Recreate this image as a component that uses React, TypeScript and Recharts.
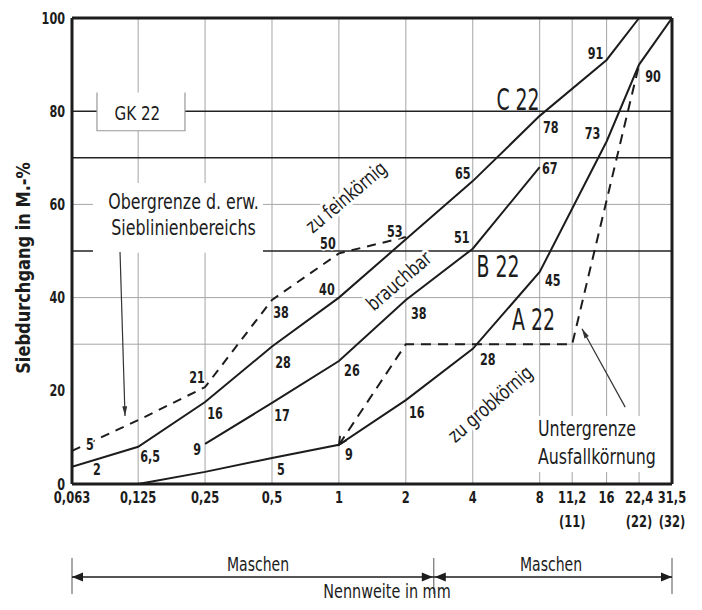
import React from 'react';
import {
	LineChart,
	Line,
	XAxis,
	YAxis,
	CartesianGrid,
	ReferenceLine,
	ReferenceArea,
	ReferenceDot,
	Label,
} from 'recharts';

const FONT = "'DejaVu Sans Condensed', 'Liberation Sans Narrow', 'DejaVu Sans', sans-serif";
const INK = '#1c1c1c';

// Siebweiten (mm) und Achsbeschriftung
const sieveMm = [0.063, 0.125, 0.25, 0.5, 1, 2, 4, 8, 11.2, 16, 22.4, 31.5];
const sieveLabels = ['0,063', '0,125', '0,25', '0,5', '1', '2', '4', '8', '11,2', '16', '22,4', '31,5'];
const sieveSubLabels = ['', '', '', '', '', '', '', '', '(11)', '', '(22)', '(32)'];
const yTicks = [0, 20, 40, 60, 80, 100];
const darkRows = [50, 70, 80];
const lightRows = [30, 40, 60];

// Obergrenze d. erw. Sieblinienbereichs (gestrichelt)
const oberMm = [0.063, 0.125, 0.25, 0.5, 1, 2];
const oberPct = [7.1, 13.7, 20.8, 39.5, 49.5, 53];
const oberLabels = ['5', '', '21', '38', '50', '53'];

// Sieblinie C 22
const c22Mm = [0.063, 0.125, 0.25, 0.5, 1, 2, 4, 8, 16, 22.4];
const c22Pct = [3.7, 8, 17.6, 29.5, 40, 52.5, 65, 79, 91, 100];
const c22Labels = ['2', '6,5', '16', '28', '40', '', '65', '78', '91', ''];

// Sieblinie B 22
const b22Mm = [0.25, 0.5, 1, 2, 4, 8];
const b22Pct = [8.6, 17.4, 26.4, 39.5, 50.5, 68];
const b22Labels = ['9', '17', '26', '38', '51', '67'];

// Sieblinie A 22
const a22Mm = [0.125, 0.25, 0.5, 1, 2, 4, 8, 16, 22.4, 31.5];
const a22Pct = [0, 2.6, 5.6, 8.4, 18, 29, 45.5, 73.5, 90, 100];
const a22Labels = ['', '', '5', '9', '16', '28', '45', '73', '90', ''];

// Untergrenze Ausfallkörnung (gestrichelt)
const unterMm = [1, 2, 11.2, 22.4];
const unterPct = [8.4, 30, 30, 90];

// label offsets in px (dx, dy) from the point
const oberOffsets = [[18, -6], [0, 0], [-8, -10], [9, 12], [-11, -10], [-11, -6]];
const c22Offsets = [[25, 3], [12, 10], [10, 11], [11, 16], [-12, -8], [0, 0], [-10, -8], [11, 12], [-11, -7], [0, 0]];
const b22Offsets = [[-8, 6], [10, 13], [13, 9], [13, 13], [-11, -11], [10, 1]];
const a22Offsets = [[0, 0], [0, 0], [9, 12], [10, 10], [11, 12], [15, 11], [13, 8], [-14, -8], [14, 12], [0, 0]];

const toRows = (mm: number[], pct: number[]) => mm.map((m, i) => ({ mm: m, pct: pct[i] }));

const Txt = ({ x, y, children, size = 16, weight = 'normal', scale = 0.8, anchor = 'middle', angle = 0, halo = 0, baseline }: any) => (
	<text
		transform={`translate(${x},${y}) rotate(${angle}) scale(${scale},1)`}
		textAnchor={anchor}
		dominantBaseline={baseline}
		fontSize={size}
		fontWeight={weight}
		fontFamily={FONT}
		fill={INK}
		stroke={halo ? '#fff' : 'none'}
		strokeWidth={halo}
		strokeLinejoin="round"
		paintOrder="stroke"
	>
		{children}
	</text>
);

// annotations placed in data units (mm, %)
const notes = [
	{ text: 'C 22', mm: 6.39, pct: 82.6, size: 30, scale: 0.7, angle: 0 },
	{ text: 'B 22', mm: 5.2, pct: 46.7, size: 30, scale: 0.7, angle: 0 },
	{ text: 'A 22', mm: 7.5, pct: 35.2, size: 30, scale: 0.7, angle: 0 },
	{ text: 'GK 22', mm: 0.124, pct: 79.7, size: 20, scale: 0.84, angle: 0 },
	{ text: 'zu feinkörnig', mm: 1.076, pct: 61.6, size: 20, scale: 0.85, angle: -40, halo: 6 },
	{ text: 'brauchbar', mm: 1.86, pct: 43.6, size: 20, scale: 0.85, angle: -41, halo: 6 },
	{ text: 'zu grobkörnig', mm: 4.78, pct: 17.2, size: 20, scale: 0.85, angle: -41, halo: 6 },
];
const textLines = [
	{ text: 'Obergrenze d. erw.', mm: 0.2, pct: 59.0, anchor: 'middle' },
	{ text: 'Sieblinienbereichs', mm: 0.2, pct: 53.4, anchor: 'middle' },
	{ text: 'Untergrenze', mm: 7.86, pct: 10.3, anchor: 'start' },
	{ text: 'Ausfallkörnung', mm: 7.86, pct: 4.3, anchor: 'start' },
];

const makeDot = (texts: string[], offs: number[][]) => (p: any) => {
	const t = texts[p.index];
	if (!t) return <g key={p.index} />;
	return (
		<g key={p.index}>
			<Txt x={p.cx + offs[p.index][0]} y={p.cy + offs[p.index][1]} size={16} weight="bold" scale={0.78} baseline="central" halo={3}>
				{t}
			</Txt>
		</g>
	);
};

const arrowShape = (filled: boolean, drawLine: boolean) => (p: any) => {
	const { x1, y1, x2, y2 } = p;
	const a = Math.atan2(y2 - y1, x2 - x1);
	const L = filled ? 10 : 9;
	const w = filled ? 0.25 : 0.45;
	const ax = x2 - L * Math.cos(a - w);
	const ay = y2 - L * Math.sin(a - w);
	const bx = x2 - L * Math.cos(a + w);
	const by = y2 - L * Math.sin(a + w);
	return (
		<g>
			{drawLine && <line x1={x1} y1={y1} x2={x2} y2={y2} stroke="#333" strokeWidth={1.2} />}
			{filled ? (
				<polygon points={`${ax},${ay} ${x2},${y2} ${bx},${by}`} fill="#333" />
			) : (
				<polyline points={`${ax},${ay} ${x2},${y2} ${bx},${by}`} fill="none" stroke={INK} strokeWidth={1.8} />
			)}
		</g>
	);
};

const XTick = (props: any) => {
	const { x, y, index } = props;
	return (
		<g>
			<Txt x={x} y={y + 11} size={16} weight="bold" scale={0.8}>
				{sieveLabels[index]}
			</Txt>
			{sieveSubLabels[index] && (
				<Txt x={x} y={y + 35} size={16} weight="bold" scale={0.8}>
					{sieveSubLabels[index]}
				</Txt>
			)}
		</g>
	);
};

const YTick = (props: any) => {
	const { x, y, payload } = props;
	return (
		<Txt x={x + 1} y={y} size={16} weight="bold" scale={0.78} anchor="end" baseline="central">
			{payload.value}
		</Txt>
	);
};

const head = (x: number, y: number, dir: number) => (
	<polygon points={`${x},${y} ${x - dir * 11},${y - 4.5} ${x - dir * 11},${y + 4.5}`} fill={INK} />
);

const BottomNotes = (props: any) => {
	const { x, y, width } = props.viewBox;
	const mid = x + width * 0.603;
	const right = x + width;
	const ly = y + 93;
	return (
		<g>
			{[x, mid, right].map((vx) => (
				<line key={vx} x1={vx} x2={vx} y1={y + 74} y2={y + 110} stroke="#555" strokeWidth={1} />
			))}
			<line x1={x} x2={right} y1={ly} y2={ly} stroke={INK} strokeWidth={1.5} />
			{head(x, ly, -1)}
			{head(mid - 1, ly, 1)}
			{head(mid + 1, ly, -1)}
			{head(right, ly, 1)}
			<Txt x={x + 186} y={y + 87} size={20} scale={0.78}>
				Maschen
			</Txt>
			<Txt x={x + 479} y={y + 87} size={20} scale={0.78}>
				Maschen
			</Txt>
			<Txt x={x + 315} y={y + 114} size={20} scale={0.8}>
				Nennweite in mm
			</Txt>
		</g>
	);
};

const YTitle = (props: any) => {
	const { y, height } = props.viewBox;
	return (
		<Txt x={23} y={y + height / 2 + 17} size={19} weight="bold" scale={0.95} angle={-90} baseline="central">
			Siebdurchgang in M.-%
		</Txt>
	);
};

const gkShape = (p: any) => {
	const { x, y, width, height } = p;
	return (
		<g>
			<rect x={x} y={y} width={width} height={height} fill="#fff" />
			<path d={`M${x},${y} V${y + height} H${x + width} V${y}`} fill="none" stroke="#999" strokeWidth={1.2} />
		</g>
	);
};

const App = () => {
	return (
		<div style={{ margin: -8 }}>
			<LineChart width={702} height={610} margin={{ top: 18, right: 30, left: 0, bottom: 0 }}>
				<CartesianGrid
					verticalValues={sieveMm.slice(1, -1)}
					horizontalValues={lightRows}
					stroke="#a5a5a5"
					strokeWidth={1}
				/>
				<CartesianGrid vertical={false} horizontalValues={darkRows} stroke="#222" strokeWidth={1.4} />
				<XAxis
					dataKey="mm"
					type="number"
					scale="log"
					domain={[0.063, 31.5]}
					ticks={sieveMm}
					interval={0}
					allowDataOverflow
					height={126}
					tickLine={false}
					axisLine={{ stroke: INK, strokeWidth: 3 }}
					tick={<XTick />}
				>
					<Label content={<BottomNotes />} />
				</XAxis>
				<YAxis
					type="number"
					domain={[0, 100]}
					ticks={yTicks}
					width={72}
					tickLine={false}
					axisLine={{ stroke: INK, strokeWidth: 3 }}
					tick={<YTick />}
				>
					<Label content={<YTitle />} />
				</YAxis>

				<ReferenceArea x1={0.0783} x2={0.4555} y1={49.6} y2={64.6} fill="#fff" fillOpacity={1} stroke="none" />
				<ReferenceArea x1={7.62} x2={29.3} y1={2.6} y2={14.6} fill="#fff" fillOpacity={1} stroke="none" />
				<ReferenceArea x1={0.0816} x2={0.203} y1={75.8} y2={84.0} shape={gkShape} />

				<Line data={toRows(oberMm, oberPct)} dataKey="pct" stroke={INK} strokeWidth={2} strokeDasharray="9 7" dot={makeDot(oberLabels, oberOffsets)} isAnimationActive={false} />
				<Line data={toRows(c22Mm, c22Pct)} dataKey="pct" stroke={INK} strokeWidth={2} dot={makeDot(c22Labels, c22Offsets)} isAnimationActive={false} />
				<Line data={toRows(b22Mm, b22Pct)} dataKey="pct" stroke={INK} strokeWidth={2} dot={makeDot(b22Labels, b22Offsets)} isAnimationActive={false} />
				<Line data={toRows(a22Mm, a22Pct)} dataKey="pct" stroke={INK} strokeWidth={2} dot={makeDot(a22Labels, a22Offsets)} isAnimationActive={false} />
				<Line data={toRows(unterMm, unterPct)} dataKey="pct" stroke={INK} strokeWidth={2} strokeDasharray="10 7" dot={false} isAnimationActive={false} />

				{notes.map((n) => (
					<ReferenceDot
						key={n.text}
						x={n.mm}
						y={n.pct}
						r={0}
						shape={(p: any) => (
							<Txt x={p.cx} y={p.cy} size={n.size} scale={n.scale} angle={n.angle} halo={n.halo || 0} baseline="central">
								{n.text}
							</Txt>
						)}
					/>
				))}
				{textLines.map((n) => (
					<ReferenceDot
						key={n.text}
						x={n.mm}
						y={n.pct}
						r={0}
						shape={(p: any) => (
							<Txt x={p.cx} y={p.cy} size={21} scale={0.84} anchor={n.anchor}>
								{n.text}
							</Txt>
						)}
					/>
				))}

				<ReferenceLine segment={[{ x: 0.1036, y: 49.8 }, { x: 0.1091, y: 14.6 }]} shape={arrowShape(true, true)} />
				<ReferenceLine segment={[{ x: 19.4, y: 16.5 }, { x: 12.4, y: 33.3 }]} shape={arrowShape(true, true)} />
				<ReferenceLine segment={[{ x: 1.15, y: 12.8 }, { x: 1, y: 8.4 }]} shape={arrowShape(false, false)} />

				<ReferenceLine y={100} stroke={INK} strokeWidth={3} />
				<ReferenceLine x={31.5} stroke={INK} strokeWidth={3} />
			</LineChart>
		</div>
	);
};

export default App;
